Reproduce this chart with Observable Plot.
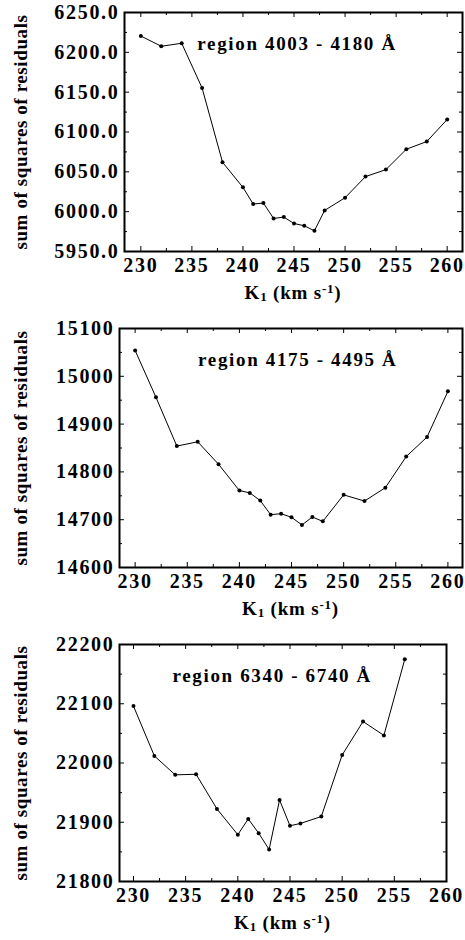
<!DOCTYPE html>
<html>
<head>
<meta charset="utf-8">
<script src="https://cdn.jsdelivr.net/npm/d3@7"></script>
<script src="https://cdn.jsdelivr.net/npm/@observablehq/plot@0.6"></script>
<style>
  html, body { margin: 0; padding: 0; background: #fff; }
  #charts svg { display: block; }
</style>
</head>
<body>
<div id="charts"></div>
<script>
// ---- data ----
const k1A = [230,232,234,236,238,240,241,242,243,244,245,246,247,248,250,252,254,256,258,260];
const ssrA = [6220.5,6207.6,6211.4,6155.2,6062.0,6030.5,6009.6,6010.8,5991.5,5993.2,5985.2,5982.3,5976.0,6001.6,6017.5,6044.0,6052.8,6078.4,6088.0,6115.7];

const k1B = [230,232,234,236,238,240,241,242,243,244,245,246,247,248,250,252,254,256,258,260];
const ssrB = [15054,14956,14854,14863,14816,14761,14756,14740,14710.5,14712.6,14705,14689,14705.6,14696.5,14752,14739,14767,14832,14873,14968.5];

const k1C = [230,232,234,236,238,240,241,242,243,244,245,246,248,250,252,254,256];
const ssrC = [22096,22012,21980,21981,21922.5,21879,21905.6,21881.5,21854,21937.6,21894,21898,21909.6,22013.5,22070,22046.6,22175];

const regionLabels = ["region 4003 - 4180 Å", "region 4175 - 4495 Å", "region 6340 - 6740 Å"];
const regionLabelX = [245.3, 245.6, 243.3];
const regionLabelY = [6210.5, 15034.6, 22146.9];

const xMajorTicks = [230, 235, 240, 245, 250, 255, 260];
const xMinorTicks = [232.5, 237.5, 242.5, 247.5, 252.5, 257.5];

const yMajorA = [5950, 6000, 6050, 6100, 6150, 6200, 6250];
const yMinorA = [5975, 6025, 6075, 6125, 6175, 6225];
const yMajorB = [14600, 14700, 14800, 14900, 15000, 15100];
const yMinorB = [14650, 14750, 14850, 14950, 15050];
const yMajorC = [21800, 21900, 22000, 22100, 22200];
const yMinorC = [21850, 21950, 22050, 22150];

const yTitle = "sum of squares of residuals";

// ---- panel configuration ----
const panels = [
  {k: k1A, s: ssrA, xDomain: [228.4, 261.5], yDomain: [5950, 6250], yMajor: yMajorA, yMinor: yMinorA, fmt: d3.format(".1f"),
   height: 316, mt: 12, mb: 65, ml: 124, mr: 3, titleDx: -104},
  {k: k1B, s: ssrB, xDomain: [228.5, 261.4], yDomain: [14600, 15100], yMajor: yMajorB, yMinor: yMinorB, fmt: d3.format("d"),
   height: 316, mt: 12, mb: 65, ml: 119, mr: 3, titleDx: -99},
  {k: k1C, s: ssrC, xDomain: [228.66, 260], yDomain: [21800, 22200], yMajor: yMajorC, yMinor: yMinorC, fmt: d3.format("d"),
   height: 308, mt: 12, mb: 59, ml: 119, mr: 19, titleDx: -99}
];

const W = 465;
const FONT = "'Liberation Serif', 'Times New Roman', serif";
const container = document.getElementById("charts");

panels.forEach((p, i) => {
  const fw = W - p.ml - p.mr;
  const fh = p.height - p.mt - p.mb;
  const pts = p.k.map((k, j) => ({k, s: p.s[j]}));
  const svg = Plot.plot({
    width: W,
    height: p.height,
    marginTop: p.mt,
    marginBottom: p.mb,
    marginLeft: p.ml,
    marginRight: p.mr,
    style: {
      fontFamily: FONT,
      fontWeight: "bold",
      fontSize: "20px",
      letterSpacing: "1.7px",
      color: "#000",
      background: "#fff",
      overflow: "visible"
    },
    x: {domain: p.xDomain},
    y: {domain: p.yDomain},
    marks: [
      // inward ticks on all four sides
      Plot.tickX(xMajorTicks, {x: d => d, insetTop: fh - 5, stroke: "#000", strokeWidth: 1}),
      Plot.tickX(xMajorTicks, {x: d => d, insetBottom: fh - 5, stroke: "#000", strokeWidth: 1}),
      Plot.tickX(xMinorTicks, {x: d => d, insetTop: fh - 3, stroke: "#000", strokeWidth: 1}),
      Plot.tickX(xMinorTicks, {x: d => d, insetBottom: fh - 3, stroke: "#000", strokeWidth: 1}),
      Plot.tickY(p.yMajor, {y: d => d, insetRight: fw - 5, stroke: "#000", strokeWidth: 1}),
      Plot.tickY(p.yMajor, {y: d => d, insetLeft: fw - 5, stroke: "#000", strokeWidth: 1}),
      Plot.tickY(p.yMinor, {y: d => d, insetRight: fw - 3, stroke: "#000", strokeWidth: 1}),
      Plot.tickY(p.yMinor, {y: d => d, insetLeft: fw - 3, stroke: "#000", strokeWidth: 1}),
      Plot.axisX({ticks: xMajorTicks, tickSize: 0, tickPadding: 6, label: null, tickFormat: d3.format("d"),
        fontSize: 20, fontWeight: "bold", fill: "#000"}),
      Plot.axisY({ticks: p.yMajor, tickSize: 0, tickPadding: 5, label: null, tickFormat: p.fmt,
        fontSize: 20, fontWeight: "bold", fill: "#000"}),
      Plot.frame({stroke: "#000", strokeWidth: 2}),
      Plot.line(pts, {x: "k", y: "s", stroke: "#000", strokeWidth: 1}),
      Plot.dot(pts, {x: "k", y: "s", r: 2, fill: "#000", stroke: null}),
      Plot.text([regionLabels[i]], {x: () => regionLabelX[i], y: () => regionLabelY[i], text: d => d,
        textAnchor: "middle", fill: "#000", fontSize: 19, fontWeight: "bold"}),
      Plot.text([yTitle], {frameAnchor: "left", text: d => d, rotate: -90, dx: p.titleDx,
        textAnchor: "middle", fill: "#000", fontSize: 19, fontWeight: "bold"})
    ]
  });
  // per-text letter spacing
  d3.select(svg).selectAll("text").each(function () {
    const s = this.textContent;
    if (s === yTitle) this.style.letterSpacing = "0.6px";
    else if (regionLabels.includes(s)) this.style.letterSpacing = "1.65px";
  });
  // x-axis title with subscript / superscript
  const cx = (p.ml + W - p.mr) / 2;
  const t = d3.select(svg).append("text")
    .attr("x", cx)
    .attr("y", p.mt + fh + 48)
    .attr("text-anchor", "middle")
    .attr("fill", "#000")
    .style("font-family", FONT)
    .style("font-weight", "bold")
    .style("font-size", "19px")
    .style("letter-spacing", "0.8px");
  t.append("tspan").text("K");
  t.append("tspan").attr("dy", 2).style("font-size", "13px").text("1");
  t.append("tspan").attr("dy", -2).text(" (km s");
  t.append("tspan").attr("dy", -6).style("font-size", "13px").text("-1");
  t.append("tspan").attr("dy", 6).text(")");
  container.appendChild(svg);
});
</script>
</body>
</html>
